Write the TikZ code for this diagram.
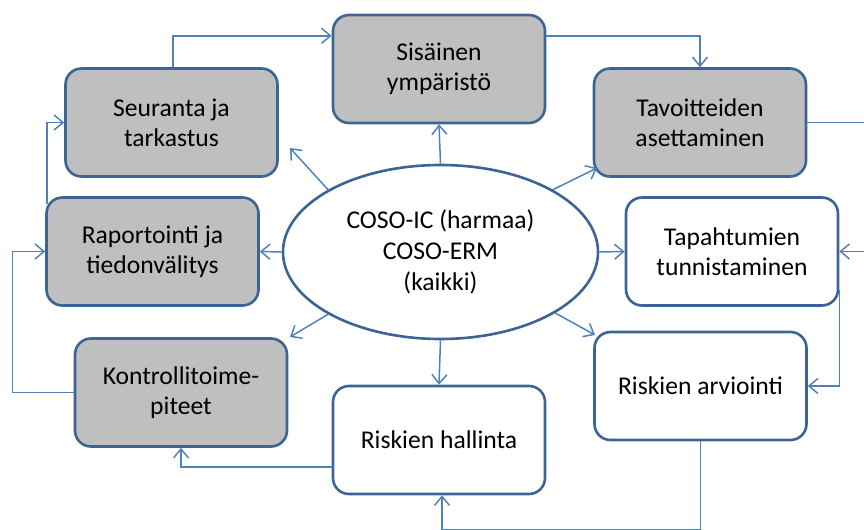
\documentclass[tikz,border=0pt]{standalone}
\usepackage{fontspec}
\setmainfont{Carlito}
\usetikzlibrary{arrows.meta,calc,shapes.geometric}
\definecolor{lineblue}{HTML}{4F81BD}
\definecolor{borderblue}{HTML}{3C6494}
\definecolor{boxgray}{HTML}{BFBFBF}
\tikzset{
  box/.style={draw=borderblue, line width=1.3pt, rounded corners=8pt, align=center,
    minimum width=106pt, minimum height=54pt, inner sep=2pt,
    font=\fontsize{12.8pt}{15pt}\selectfont},
  graybox/.style={box, fill=boxgray},
  whitebox/.style={box, fill=white},
  conn/.style={draw=lineblue, line width=0.75pt, -{Straight Barb[length=4.5pt,width=7.5pt,line width=0.75pt]}},
}
\begin{document}
\begin{tikzpicture}[x=0.5pt,y=-0.5pt]
\clip (0,0) rectangle (864,530);
\node[graybox] (seur) at (171.5,122.5) {Seuranta ja\\tarkastus};
\node[graybox] (sis) at (439,69) {Sisäinen\\ympäristö};
\node[graybox] (tav) at (700,122.5) {Tavoitteiden\\asettaminen};
\node[whitebox] (tap) at (732,251.5) {Tapahtumien\\tunnistaminen};
\node[whitebox] (rarv) at (700.5,386) {Riskien arviointi};
\node[whitebox] (rhal) at (439,440) {Riskien hallinta};
\node[graybox] (kont) at (181,392.5) {Kontrollitoime-\\piteet};
\node[graybox] (rap) at (152.5,251.5) {Raportointi ja\\tiedonvälitys};
\node[ellipse, draw=borderblue, line width=1.3pt, fill=white, minimum width=157.5pt, minimum height=87pt,
  align=center, inner sep=0pt, font=\fontsize{12.8pt}{15.5pt}\selectfont] (ell) at (440.5,252)
  {COSO-IC (harmaa)\\COSO-ERM\\(kaikki)};
% spoke end points
\coordinate (ulend) at (290,148);
\coordinate (urend) at (597,168);
\coordinate (llend) at (290,337);
\coordinate (lrend) at (595,335);
% spokes
\draw[conn] (ell.north) -- (sis.south);
\draw[conn] (ell.151) -- (ulend);
\draw[conn] (ell.29) -- (urend);
\draw[conn] (ell.west) -- (rap.east);
\draw[conn] (ell.east) -- (tap.west);
\draw[conn] (ell.209) -- (llend);
\draw[conn] (ell.332) -- (lrend);
\draw[conn] (ell.south) -- (rhal.north);
% cycle
\draw[conn] ($(seur.north)+(1.5,0)$) |- ($(sis.north west)!0.2!(sis.south west)$);
\draw[conn] ($(sis.north east)!0.2!(sis.south east)$) -| (tav.north);
\draw[conn] (tav.east) -- ++(70,0) |- (tap.east);
\draw[conn] ($(tap.south east)+(0,-17)$) |- (rarv.east);
\draw[conn] (rarv.south) -- ++(0,88) -| ($(rhal.south)+(3,0)$);
\draw[conn] ($(rhal.west)+(0,27)$) -| (kont.south);
\draw[conn] (kont.west) -- ++(-61,0) |- (rap.west);
\draw[conn] ($(rap.north west)+(2,8)$) |- (seur.west);
\end{tikzpicture}
\end{document}
